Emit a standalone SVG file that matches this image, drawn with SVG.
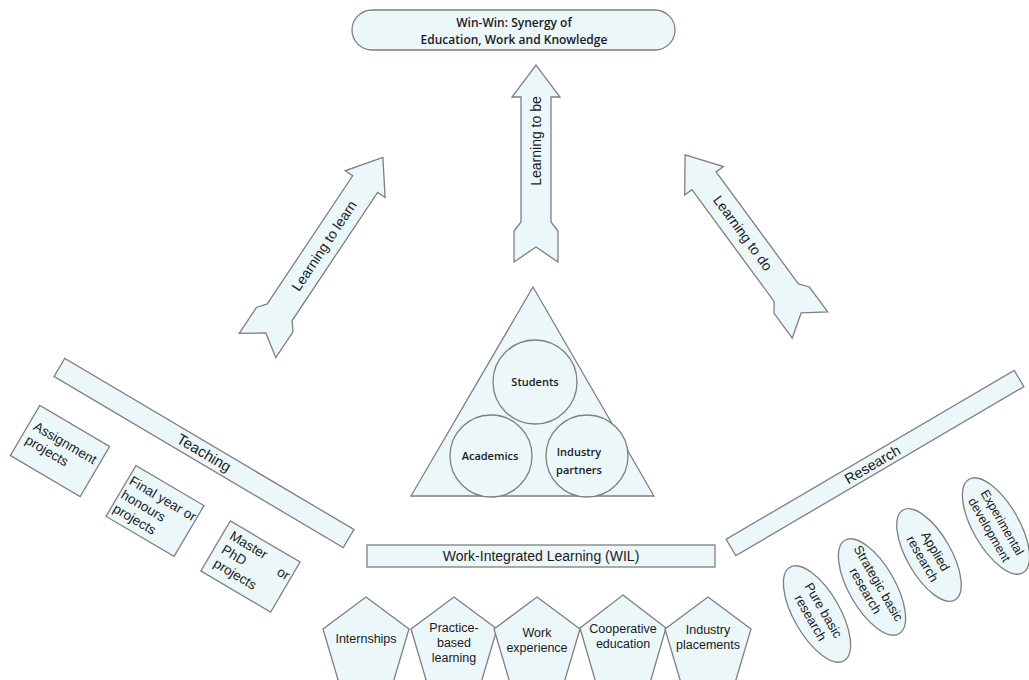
<svg xmlns="http://www.w3.org/2000/svg" width="1029" height="680" viewBox="0 0 1029 680">
<style>
.s{fill:#ecf7fa;stroke:#7f7f7f;stroke-width:1.3}
.t{font-family:"Liberation Sans",Arial,sans-serif;fill:#1a1a1a}
.c{font-family:"Open Sans","Noto Sans",sans-serif;fill:#1a1a1a;font-weight:600}
.m{text-anchor:middle}
</style>
<rect width="1029" height="680" fill="#ffffff"/>

<g id="goal">
<rect class="s" x="352" y="10" width="323" height="40" rx="20"/>
<text class="c m" x="514" y="27" font-size="12">Win-Win: Synergy of</text>
<text class="c m" x="514" y="44" font-size="12">Education, Work and Knowledge</text>
</g>

<g id="connectors">
<g id="arrow-learn" transform="translate(257.5,345.5) rotate(-56.3)">
<polygon class="s" points="0,-22 15,0 0,22 31,22 40,15 194,15 194,24 226,0 194,-24 194,-15 40,-15 31,-22"/>
<text class="t m" x="120" y="5" font-size="14">Learning to learn</text>
</g>
<g id="arrow-be" transform="translate(536,262) rotate(-90)">
<polygon class="s" points="0,-22 15,0 0,22 31,22 40,15 165,15 165,24 197,0 165,-24 165,-15 40,-15 31,-22"/>
<text class="t m" x="121" y="5" font-size="14">Learning to be</text>
</g>
<g id="arrow-do">
<polygon class="s" transform="translate(810,325) rotate(-126.3)" points="0,-22 15,0 0,22 31,22 40,15 179,15 179,24 211,0 179,-24 179,-15 40,-15 31,-22"/>
<text class="t m" transform="translate(743,233) rotate(53.7)" y="5" font-size="14">Learning to do</text>
</g>
</g>

<g id="stakeholders">
<polygon class="s" points="533,287 654,496 411,496"/>
<g id="students">
<circle class="s" cx="535" cy="382" r="42"/>
<text class="c m" x="535" y="386" font-size="11">Students</text>
</g>
<g id="academics">
<circle class="s" cx="491" cy="456" r="41"/>
<text class="c m" x="490" y="460" font-size="11">Academics</text>
</g>
<g id="industry-partners">
<circle class="s" cx="587" cy="456" r="41"/>
<text class="c m" x="579" y="456" font-size="11">Industry</text>
<text class="c m" x="579" y="474" font-size="11">partners</text>
</g>
</g>

<g id="teaching" transform="translate(204,453) rotate(30.6)">
<rect class="s" x="-168" y="-10.5" width="336" height="21"/>
<text class="t m" x="0" y="5" font-size="15">Teaching</text>
</g>
<g id="assignment" transform="translate(60,451) rotate(30.5)">
<rect class="s" x="-40.5" y="-29" width="81" height="58"/>
<text class="t" x="-35" y="-5" font-size="13.5">Assignment</text>
<text class="t" x="-35" y="11" font-size="13.5">projects</text>
</g>
<g id="final-year" transform="translate(155,511) rotate(30.5)">
<rect class="s" x="-39.5" y="-29.5" width="79" height="59"/>
<text class="t" x="-37" y="-10" font-size="13.5">Final year or</text>
<text class="t" x="-37" y="6" font-size="13.5">honours</text>
<text class="t" x="-37" y="22" font-size="13.5">projects</text>
</g>
<g id="master-phd" transform="translate(250.5,566.5) rotate(30.5)">
<rect class="s" x="-40.5" y="-29" width="81" height="58"/>
<text class="t" x="-33" y="-13" font-size="13.5">Master</text>
<text class="t" x="26" y="-6" font-size="13.5">or</text>
<text class="t" x="-33" y="3" font-size="13.5">PhD</text>
<text class="t" x="-33" y="19" font-size="13.5">projects</text>
</g>

<g id="research" transform="translate(875,463) rotate(-30.4)">
<rect class="s" x="-167" y="-9.5" width="334" height="19"/>
<text class="t m" x="-3" y="5" font-size="14.5">Research</text>
</g>
<g id="pure-basic" transform="translate(817,614) rotate(60)">
<ellipse class="s" cx="0" cy="0" rx="54" ry="23"/>
<text class="t m" x="0" y="-3" font-size="13">Pure basic</text>
<text class="t m" x="0" y="12" font-size="13">research</text>
</g>
<g id="strategic-basic" transform="translate(872,587) rotate(60)">
<ellipse class="s" cx="0" cy="0" rx="54" ry="23"/>
<text class="t m" x="0" y="-3" font-size="13">Strategic basic</text>
<text class="t m" x="0" y="12" font-size="13">research</text>
</g>
<g id="applied" transform="translate(929,555) rotate(60)">
<ellipse class="s" cx="0" cy="0" rx="52" ry="22"/>
<text class="t m" x="0" y="-3" font-size="13">Applied</text>
<text class="t m" x="0" y="12" font-size="13">research</text>
</g>
<g id="experimental" transform="translate(996,526) rotate(60)">
<ellipse class="s" cx="0" cy="0" rx="54" ry="23"/>
<text class="t m" x="0" y="-3" font-size="12.5">Experimental</text>
<text class="t m" x="0" y="12" font-size="12.5">development</text>
</g>

<g id="wil">
<rect class="s" x="367" y="545" width="348" height="22"/>
<text class="t m" x="541" y="561" font-size="14">Work-Integrated Learning (WIL)</text>
</g>
<g id="internships" transform="translate(366,643)">
<polygon class="s" points="0,-46 43,-14 27,40 -27,40 -43,-14"/>
<text class="t m" x="0" y="-0.5" font-size="12.5">Internships</text>
</g>
<g id="practice-based" transform="translate(454,643)">
<polygon class="s" points="0,-46 43,-14 27,40 -27,40 -43,-14"/>
<text class="t m" x="0" y="-11.5" font-size="12.5">Practice-</text>
<text class="t m" x="0" y="3.5" font-size="12.5">based</text>
<text class="t m" x="0" y="18.5" font-size="12.5">learning</text>
</g>
<g id="work-experience" transform="translate(537,643)">
<polygon class="s" points="0,-46 43,-14 27,40 -27,40 -43,-14"/>
<text class="t m" x="0" y="-6.5" font-size="12.5">Work</text>
<text class="t m" x="0" y="8.5" font-size="12.5">experience</text>
</g>
<g id="cooperative" transform="translate(623,642)">
<polygon class="s" points="0,-47 43,-14 27,41 -27,41 -43,-14"/>
<text class="t m" x="0" y="-9.5" font-size="12.5">Cooperative</text>
<text class="t m" x="0" y="5.5" font-size="12.5">education</text>
</g>
<g id="industry-placements" transform="translate(708,643)">
<polygon class="s" points="0,-46 43,-14 27,40 -27,40 -43,-14"/>
<text class="t m" x="0" y="-9.5" font-size="12.5">Industry</text>
<text class="t m" x="0" y="5.5" font-size="12.5">placements</text>
</g>
</svg>
